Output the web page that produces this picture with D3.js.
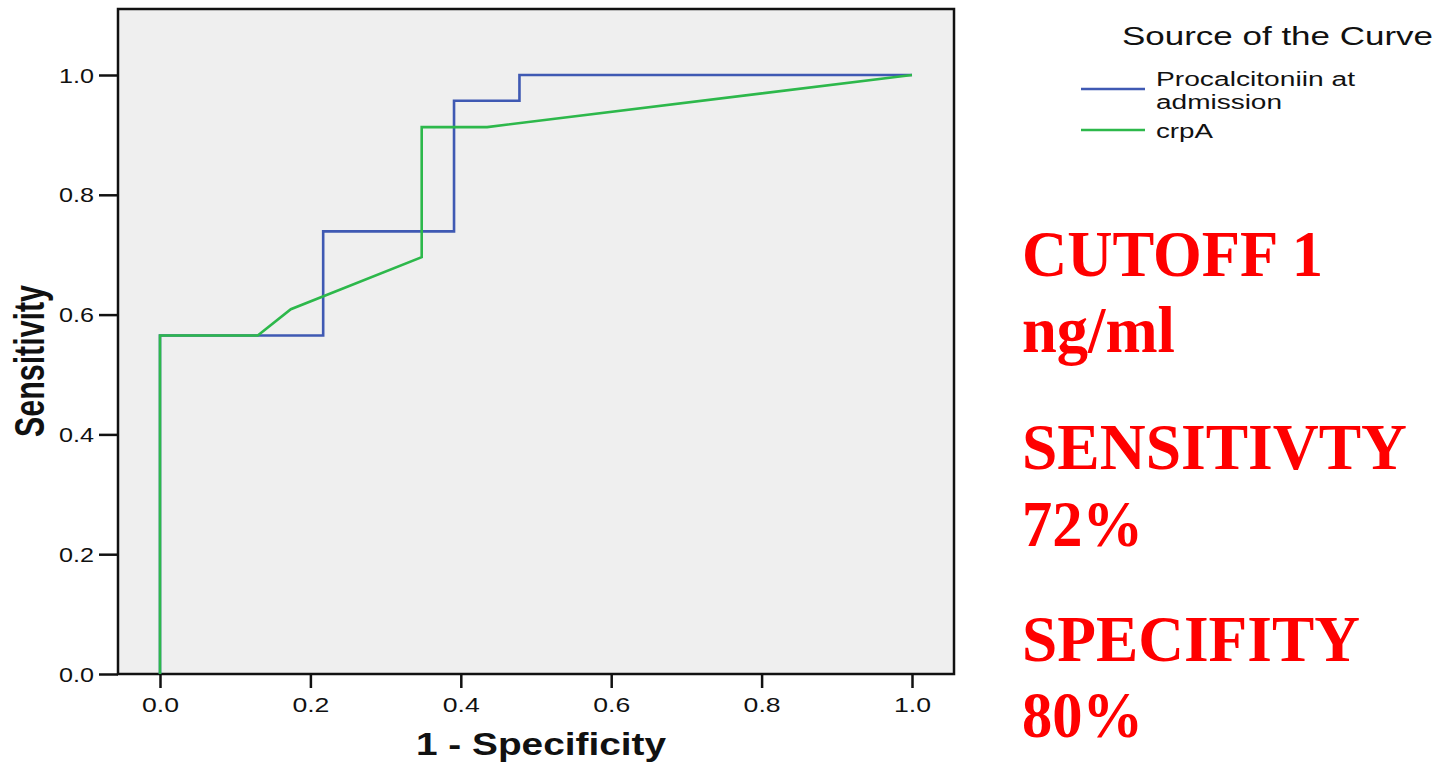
<!DOCTYPE html>
<html>
<head>
<meta charset="utf-8">
<script src="https://cdn.jsdelivr.net/npm/d3@7"></script>
<style>
  html, body { margin: 0; padding: 0; background: #ffffff; }
  svg { display: block; }
</style>
</head>
<body>
<script>
// ---- data ----
const tickValues = [0.0, 0.2, 0.4, 0.6, 0.8, 1.0];
const seriesNames = ["Procalcitoniin at admission", "crpA"];
const pctFPR  = [0, 0, 0.217, 0.217, 0.391, 0.391, 0.478, 0.478, 1.0];
const pctTPR  = [0, 0.565, 0.565, 0.739, 0.739, 0.957, 0.957, 1.0, 1.0];
const crpFPR  = [0, 0, 0.130, 0.174, 0.348, 0.348, 0.435, 1.0];
const crpTPR  = [0, 0.565, 0.565, 0.609, 0.696, 0.913, 0.913, 1.0];
const noteLines = ["CUTOFF 1", "ng/ml", "SENSITIVTY", "72%", "SPECIFITY", "80%"];

const W = 1446, H = 762;
const svg = d3.select("body").append("svg").attr("width", W).attr("height", H);

const x = d3.scaleLinear().domain([0, 1]).range([160, 912]);
const y = d3.scaleLinear().domain([0, 1]).range([674, 75]);

// plot frame
svg.append("rect")
  .attr("x", 118).attr("y", 9).attr("width", 836).attr("height", 665)
  .attr("fill", "#efefef").attr("stroke", "#111").attr("stroke-width", 2.5);

// y axis
const yAxis = svg.append("g").attr("transform", "translate(118,0)")
  .call(d3.axisLeft(y).tickValues(tickValues).tickSize(19).tickPadding(5).tickFormat(d3.format(".1f")));
yAxis.select(".domain").remove();
yAxis.selectAll(".tick line").attr("stroke", "#111").attr("stroke-width", 2.5);
yAxis.selectAll(".tick text")
  .attr("font-family", "Liberation Sans, Arial, sans-serif").attr("font-size", 21)
  .attr("fill", "#111").attr("x", -24).attr("dy", "0.34em")
  .attr("textLength", 35).attr("lengthAdjust", "spacingAndGlyphs");

// x axis
const xAxis = svg.append("g").attr("transform", "translate(0,674)")
  .call(d3.axisBottom(x).tickValues(tickValues).tickSize(14).tickPadding(6).tickFormat(d3.format(".1f")));
xAxis.select(".domain").remove();
xAxis.selectAll(".tick line").attr("stroke", "#111").attr("stroke-width", 2.5);
xAxis.selectAll(".tick text")
  .attr("font-family", "Liberation Sans, Arial, sans-serif").attr("font-size", 21)
  .attr("fill", "#111").attr("y", 38).attr("dy", 0)
  .attr("textLength", 37).attr("lengthAdjust", "spacingAndGlyphs");

// axis titles
svg.append("text")
  .attr("x", 541).attr("y", 755).attr("text-anchor", "middle")
  .attr("font-family", "Liberation Sans, Arial, sans-serif").attr("font-weight", "bold")
  .attr("font-size", 32).attr("fill", "#111")
  .attr("textLength", 250).attr("lengthAdjust", "spacingAndGlyphs")
  .text("1 - Specificity");

svg.append("text")
  .attr("transform", "translate(44,361) rotate(-90)")
  .attr("text-anchor", "middle")
  .attr("font-family", "Liberation Sans, Arial, sans-serif").attr("font-weight", "bold")
  .attr("font-size", 42).attr("fill", "#111")
  .attr("textLength", 152).attr("lengthAdjust", "spacingAndGlyphs")
  .text("Sensitivity");

// curves
const colors = ["#3f59b3", "#2db84b"];
const line = d3.line().x(d => x(d[0])).y(d => y(d[1]));
const pctPts = pctFPR.map((v, i) => [v, pctTPR[i]]);
const crpPts = crpFPR.map((v, i) => [v, crpTPR[i]]);
svg.append("path").datum(pctPts).attr("d", line)
  .attr("fill", "none").attr("stroke", colors[0]).attr("stroke-width", 2.6);
svg.append("path").datum(crpPts).attr("d", line)
  .attr("fill", "none").attr("stroke", colors[1]).attr("stroke-width", 2.6);

// legend
svg.append("text")
  .attr("x", 1122).attr("y", 45)
  .attr("font-family", "Liberation Sans, Arial, sans-serif").attr("font-size", 25).attr("fill", "#111")
  .attr("textLength", 311).attr("lengthAdjust", "spacingAndGlyphs")
  .text("Source of the Curve");

const legendRows = [
  { color: colors[0], lineY: 89, lines: [["Procalcitoniin at", 86, 199], ["admission", 109, 126]] },
  { color: colors[1], lineY: 130, lines: [["crpA", 138, 57]] }
];
legendRows.forEach(r => {
  svg.append("line").attr("x1", 1081).attr("x2", 1145).attr("y1", r.lineY).attr("y2", r.lineY)
    .attr("stroke", r.color).attr("stroke-width", 2.6);
  r.lines.forEach(([t, by, len]) => {
    svg.append("text").attr("x", 1156).attr("y", by)
      .attr("font-family", "Liberation Sans, Arial, sans-serif").attr("font-size", 20).attr("fill", "#111")
      .attr("textLength", len).attr("lengthAdjust", "spacingAndGlyphs")
      .text(t);
  });
});

// red annotation
const noteY = [276, 352, 469, 546, 661, 737];
const noteW = [301, 153, 385, 121, 338, 121];
noteLines.forEach((t, i) => {
  svg.append("text").attr("x", 1022).attr("y", noteY[i])
    .attr("font-family", "Liberation Serif, 'Times New Roman', serif").attr("font-weight", "bold")
    .attr("font-size", 65).attr("fill", "#ff0000")
    .attr("textLength", noteW[i]).attr("lengthAdjust", "spacingAndGlyphs")
    .text(t);
});
</script>
</body>
</html>
